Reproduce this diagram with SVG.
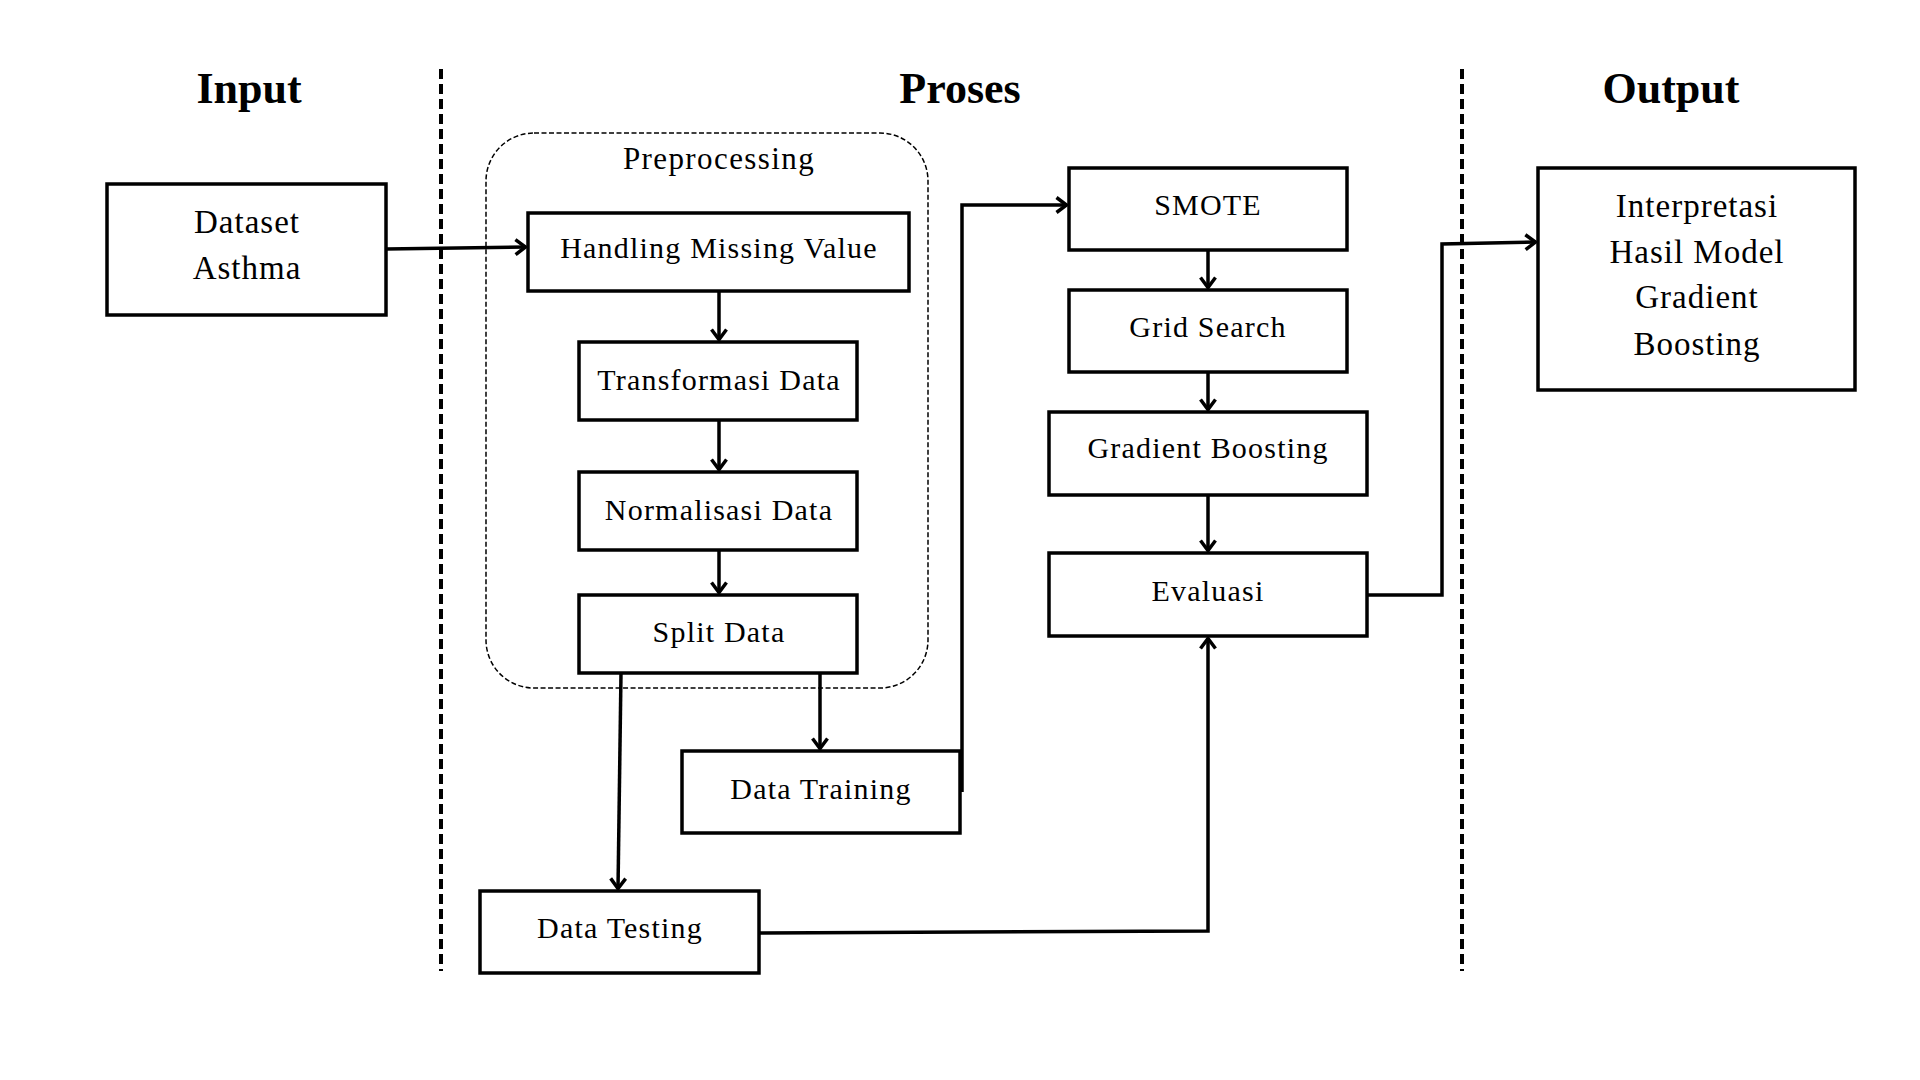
<svg xmlns="http://www.w3.org/2000/svg" width="1920" height="1080" viewBox="0 0 1920 1080">
<style>
.bg{fill:#fff}
.box{fill:#fff;stroke:#000;stroke-width:3.5}
.t{font-family:"Liberation Serif","Times New Roman",serif;font-size:30px;letter-spacing:1.2px;fill:#000;text-anchor:middle}
.big{font-size:33px;letter-spacing:1px}
.h{font-family:"Liberation Serif","Times New Roman",serif;font-size:44px;font-weight:bold;fill:#000;text-anchor:middle}
.div{stroke:#000;stroke-width:4;stroke-dasharray:10 5;fill:none}
.grp{fill:none;stroke:#000;stroke-width:1.5;stroke-dasharray:5 2.5}
.c{fill:none;stroke:#000;stroke-width:3.5;stroke-linejoin:miter}
.a{marker-end:url(#arr)}
</style>
<defs>
<marker id="arr" viewBox="0 0 16 20" refX="13.5" refY="10" markerWidth="16" markerHeight="20" orient="auto" markerUnits="userSpaceOnUse">
<path d="M3,2.5 L13,10 L3,17.5" fill="none" stroke="#000" stroke-width="3.5"/>
</marker>
</defs>
<rect class="bg" x="0" y="0" width="1920" height="1080"/>

<g id="headers">
<text class="h" x="249" y="103">Input</text>
<text class="h" x="960" y="103">Proses</text>
<text class="h" x="1671" y="103">Output</text>
</g>

<g id="dividers">
<line class="div" x1="441" y1="69" x2="441" y2="971"/>
<line class="div" x1="1462" y1="69" x2="1462" y2="971"/>
</g>

<g id="preprocessing-group">
<rect class="grp" x="486" y="133" width="442" height="555" rx="48" ry="48"/>
<text class="t" x="719" y="169" style="font-size:31px;letter-spacing:1.4px">Preprocessing</text>
</g>

<g id="dataset">
<rect class="box" x="107" y="184" width="279" height="131"/>
<text class="t big" x="247" y="233">Dataset</text>
<text class="t big" x="247" y="279">Asthma</text>
</g>

<g id="handling">
<rect class="box" x="528" y="213" width="381" height="78"/>
<text class="t" x="719" y="258">Handling Missing Value</text>
</g>

<g id="transformasi">
<rect class="box" x="579" y="342" width="278" height="78"/>
<text class="t" x="719" y="390">Transformasi Data</text>
</g>

<g id="normalisasi">
<rect class="box" x="579" y="472" width="278" height="78"/>
<text class="t" x="719" y="520">Normalisasi Data</text>
</g>

<g id="split">
<rect class="box" x="579" y="595" width="278" height="78"/>
<text class="t" x="719" y="642">Split Data</text>
</g>

<g id="training">
<rect class="box" x="682" y="751" width="278" height="82"/>
<text class="t" x="821" y="799">Data Training</text>
</g>

<g id="testing">
<rect class="box" x="480" y="891" width="279" height="82"/>
<text class="t" x="620" y="938">Data Testing</text>
</g>

<g id="smote">
<rect class="box" x="1069" y="168" width="278" height="82"/>
<text class="t" x="1208" y="215">SMOTE</text>
</g>

<g id="gridsearch">
<rect class="box" x="1069" y="290" width="278" height="82"/>
<text class="t" x="1208" y="337">Grid Search</text>
</g>

<g id="gradientboosting">
<rect class="box" x="1049" y="412" width="318" height="83"/>
<text class="t" x="1208" y="458">Gradient Boosting</text>
</g>

<g id="evaluasi">
<rect class="box" x="1049" y="553" width="318" height="83"/>
<text class="t" x="1208" y="601">Evaluasi</text>
</g>

<g id="interpretasi">
<rect class="box" x="1538" y="168" width="317" height="222"/>
<text class="t big" x="1697" y="217">Interpretasi</text>
<text class="t big" x="1697" y="263">Hasil Model</text>
<text class="t big" x="1697" y="308">Gradient</text>
<text class="t big" x="1697" y="355">Boosting</text>
</g>

<g id="connectors">
<path class="c a" d="M386,249 L526,247"/>
<path class="c a" d="M719,291 L719,340"/>
<path class="c a" d="M719,420 L719,470"/>
<path class="c a" d="M719,550 L719,593"/>
<path class="c a" d="M621,673 L618,889"/>
<path class="c a" d="M820,673 L820,749"/>
<path class="c a" d="M962,792 L962,205 L1067,205"/>
<path class="c a" d="M1208,250 L1208,288"/>
<path class="c a" d="M1208,372 L1208,410"/>
<path class="c a" d="M1208,495 L1208,551"/>
<path class="c a" d="M759,933 L1208,931 L1208,638"/>
<path class="c a" d="M1367,595 L1442,595 L1442,244 L1536,242"/>
</g>
</svg>
